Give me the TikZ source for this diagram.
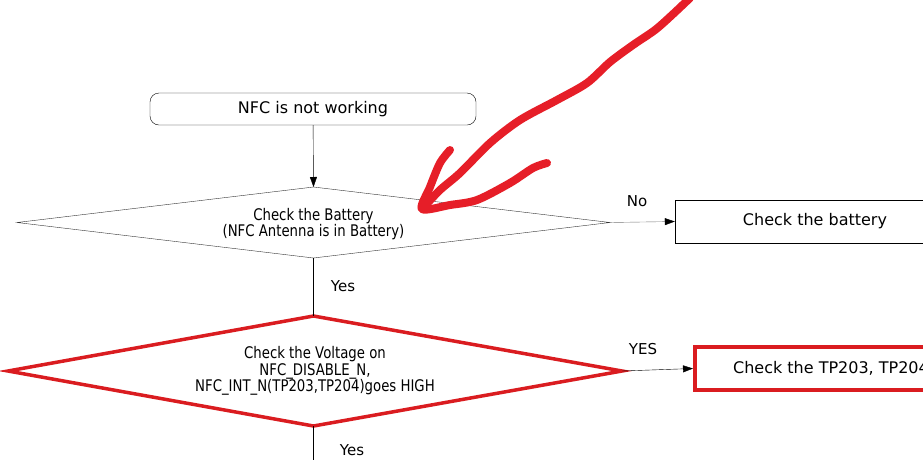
\documentclass[tikz,border=0pt]{standalone}
\usepackage{fontspec}
\setmainfont{DejaVu Sans}
\newfontfamily\narrowfont[FakeStretch=0.83]{DejaVu Sans}
\usetikzlibrary{arrows.meta}

\definecolor{boxred}{RGB}{218,28,32}
\definecolor{penred}{RGB}{230,30,40}
\definecolor{linegray}{RGB}{120,120,120}

\tikzset{
  flow/.style={-{Triangle[length=10pt,width=7pt,black]}},
  startbox/.style={draw,rounded corners=9pt,minimum width=326pt,minimum height=32pt,
    font=\fontsize{16}{16}\selectfont},
  checktext/.style={align=center,font=\narrowfont\fontsize{16}{16.5}\selectfont},
  resultbox/.style={draw,minimum height=43pt,font=\fontsize{16}{16}\selectfont},
  answer/.style={font=\fontsize{15}{15}\selectfont},
  pen/.style={penred,line width=8pt,line cap=round,line join=round},
}

\begin{document}
\begin{tikzpicture}[x=1pt,y=-1pt]
\useasboundingbox (0,0) rectangle (923,459);
\clip (0,0) rectangle (923,459);

% start
\node[startbox] (start) at (313,109) {NFC is not working};

% battery check
\coordinate (battN) at (313.5,187);
\coordinate (battE) at (610,222.5);
\coordinate (battS) at (313.5,258);
\coordinate (battW) at (17,222.5);
\draw[black!80] (battN) -- (battE) -- (battS) -- (battW) -- cycle;
\node[checktext] (batt) at (313.5,224) {Check the Battery\\(NFC Antenna is in Battery)};
\node[resultbox,minimum width=280pt] (battbox) at (815,221.5) {Check the battery};

\draw[flow] (start) -- (battN);
\draw[flow,linegray] (battE) -- (battbox.west);
\node[answer] (no) at (637,201) {No};

% voltage check
\coordinate (voltN) at (313.5,316);
\coordinate (voltE) at (622,371);
\coordinate (voltS) at (313.5,426);
\coordinate (voltW) at (8,371);
\draw[boxred,line width=3.5pt] (voltN) -- (voltE) -- (voltS) -- (voltW) -- cycle;
\node[checktext] (volt) at (315,371)
  {Check the Voltage on\\NFC\_DISABLE\_N,\\NFC\_INT\_N(TP203,TP204)goes HIGH};
\node[resultbox,draw=boxred,line width=4pt,minimum width=272pt] (tpbox) at (831,368.5)
  {Check the TP203, TP204};

\draw (battS) -- (voltN);
\node[answer] (yes1) at (343,286) {Yes};
\draw[flow] (voltE) -- (tpbox.west);
\node[answer] (yes2) at (643,349) {YES};

\coordinate (down) at (313.5,470);
\draw (voltS) -- (down);
\node[answer] (yes3) at (352,450) {Yes};

% red pen mark
\draw[pen] plot[smooth] coordinates
  {(690,-2) (672,15) (655,30) (633,45) (610,62) (587,83) (557,100) (520,120) (490,143) (460,173) (440,190) (423,208)};
\draw[pen] plot[smooth] coordinates
  {(450,150) (440,163) (430,187) (422,209) (450,205) (477,200) (510,183) (533,168) (547,163)};

\end{tikzpicture}
\end{document}
